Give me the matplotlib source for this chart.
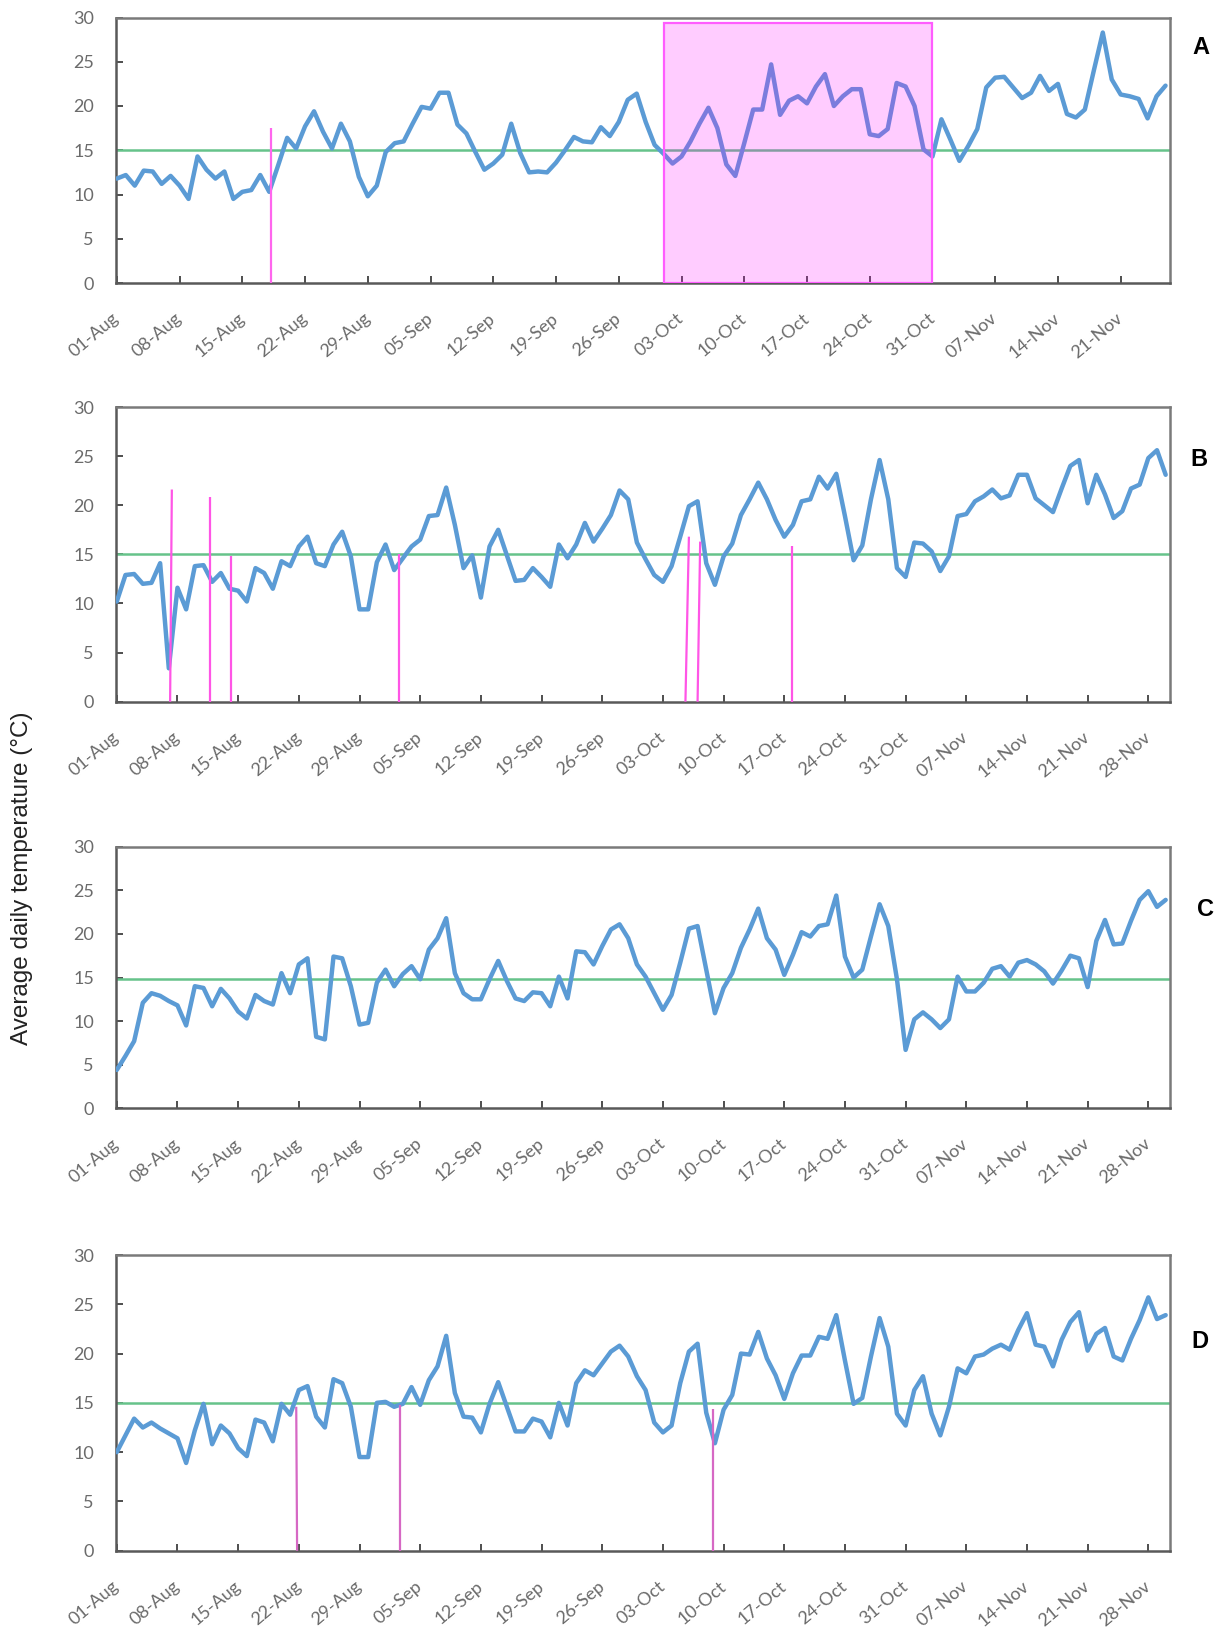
import numpy as np
import pandas as pd
import matplotlib
matplotlib.use("Agg")
import matplotlib.pyplot as plt
from matplotlib.patches import Rectangle

start_date = "2018-08-01"
tick_step = 7

# daily mean temperature, one value per day from 01-Aug
temp_a = [11.8, 12.2, 11.0, 12.7, 12.6, 11.2, 12.1, 11.0, 9.5, 14.3,
          12.8, 11.8, 12.6, 9.5, 10.3, 10.5, 12.2, 10.3, 13.3, 16.4,
          15.2, 17.7, 19.4, 17.1, 15.2, 18.0, 16.0, 12.0, 9.8, 11.0,
          14.8, 15.8, 16.0, 18.0, 19.9, 19.7, 21.5, 21.5, 17.9, 16.9,
          14.8, 12.8, 13.5, 14.5, 18.0, 14.7, 12.5, 12.6, 12.5, 13.6,
          15.0, 16.5, 16.0, 15.9, 17.6, 16.6, 18.2, 20.7, 21.4, 18.2,
          15.6, 14.6, 13.5, 14.3, 16.0, 18.0, 19.8, 17.5, 13.4, 12.1,
          15.8, 19.6, 19.6, 24.7, 19.0, 20.6, 21.1, 20.3, 22.2, 23.6,
          20.0, 21.1, 21.9, 21.9, 16.8, 16.6, 17.4, 22.6, 22.2, 20.0,
          15.1, 14.3, 18.5, 16.2, 13.8, 15.5, 17.4, 22.1, 23.2, 23.3,
          22.1, 20.9, 21.5, 23.4, 21.7, 22.5, 19.1, 18.7, 19.6, 24.0,
          28.3, 23.0, 21.3, 21.1, 20.8, 18.6, 21.1, 22.3]

temp_b = [10.2, 12.9, 13.0, 12.0, 12.1, 14.1, 3.4, 11.6, 9.4, 13.8,
          13.9, 12.2, 13.1, 11.5, 11.3, 10.2, 13.6, 13.1, 11.5, 14.3,
          13.8, 15.8, 16.8, 14.1, 13.8, 16.0, 17.3, 14.8, 9.4, 9.4,
          14.2, 16.0, 13.4, 14.6, 15.8, 16.5, 18.9, 19.0, 21.8, 18.0,
          13.6, 14.9, 10.6, 15.8, 17.5, 14.9, 12.3, 12.4, 13.6, 12.7,
          11.7, 16.0, 14.6, 16.0, 18.2, 16.3, 17.6, 19.0, 21.5, 20.6,
          16.2, 14.5, 12.9, 12.2, 13.8, 16.8, 19.9, 20.4, 14.1, 11.9,
          14.8, 16.1, 19.0, 20.6, 22.3, 20.6, 18.5, 16.8, 18.0, 20.4,
          20.6, 22.9, 21.7, 23.2, 18.9, 14.4, 15.9, 20.6, 24.6, 20.6,
          13.6, 12.7, 16.2, 16.1, 15.3, 13.3, 14.8, 18.9, 19.1, 20.4,
          20.9, 21.6, 20.7, 21.0, 23.1, 23.1, 20.7, 20.0, 19.3, 21.7,
          24.0, 24.6, 20.2, 23.1, 21.1, 18.7, 19.4, 21.7, 22.1, 24.8,
          25.6, 23.1]

temp_c = [4.4, 6.0, 7.7, 12.1, 13.2, 12.9, 12.3, 11.8, 9.5, 14.0,
          13.8, 11.7, 13.7, 12.6, 11.1, 10.3, 13.0, 12.3, 11.9, 15.5,
          13.2, 16.5, 17.2, 8.2, 7.9, 17.4, 17.2, 14.0, 9.6, 9.8,
          14.4, 15.9, 14.0, 15.4, 16.3, 14.8, 18.2, 19.5, 21.8, 15.5,
          13.2, 12.5, 12.5, 14.8, 16.9, 14.6, 12.6, 12.3, 13.3, 13.2,
          11.7, 15.1, 12.6, 18.0, 17.9, 16.5, 18.6, 20.5, 21.1, 19.5,
          16.5, 15.1, 13.2, 11.3, 13.0, 16.7, 20.6, 20.9, 15.9, 10.9,
          13.8, 15.5, 18.4, 20.5, 22.9, 19.5, 18.2, 15.3, 17.6, 20.2,
          19.7, 20.9, 21.1, 24.4, 17.4, 15.0, 15.9, 19.7, 23.4, 20.9,
          14.8, 6.7, 10.2, 11.0, 10.2, 9.2, 10.2, 15.1, 13.4, 13.4,
          14.4, 16.0, 16.3, 15.1, 16.7, 17.0, 16.5, 15.7, 14.3, 15.8,
          17.5, 17.2, 13.9, 19.2, 21.6, 18.8, 18.9, 21.5, 23.9, 24.9,
          23.1, 23.9]

temp_d = [10.0, 11.7, 13.4, 12.5, 13.0, 12.4, 11.9, 11.4, 8.9, 12.2,
          14.9, 10.8, 12.7, 11.9, 10.4, 9.6, 13.3, 13.0, 11.1, 14.9,
          13.8, 16.3, 16.7, 13.6, 12.5, 17.4, 17.0, 14.6, 9.5, 9.5,
          15.0, 15.1, 14.6, 14.9, 16.6, 14.8, 17.3, 18.7, 21.8, 16.0,
          13.6, 13.5, 12.0, 14.9, 17.1, 14.6, 12.1, 12.1, 13.4, 13.1,
          11.5, 15.0, 12.7, 17.0, 18.3, 17.8, 19.0, 20.2, 20.8, 19.7,
          17.7, 16.3, 13.0, 12.0, 12.7, 17.0, 20.2, 21.0, 14.0, 10.9,
          14.3, 15.8, 20.0, 19.9, 22.2, 19.5, 17.8, 15.4, 18.0, 19.8,
          19.8, 21.7, 21.5, 23.9, 19.3, 14.9, 15.5, 19.7, 23.6, 20.7,
          13.9, 12.7, 16.3, 17.7, 13.9, 11.7, 14.6, 18.5, 18.0, 19.7,
          19.9, 20.5, 20.9, 20.4, 22.4, 24.1, 20.9, 20.7, 18.7, 21.4,
          23.2, 24.2, 20.3, 22.0, 22.6, 19.7, 19.3, 21.5, 23.4, 25.7,
          23.5, 23.9]

thresholds = [15, 15, 14.8, 15]

# event markers: (day at base, day at top, height of marker)
events_a = [(17.2, 17.2, 17.5)]
events_b = [(6.15, 6.35, 21.6), (10.7, 10.7, 20.8), (13.2, 13.2, 14.8),
            (32.6, 32.6, 15.0), (65.6, 66.0, 16.8), (67.0, 67.3, 16.3),
            (77.9, 77.9, 15.8)]
events_c = []
events_d = [(20.8, 20.7, 14.6), (32.7, 32.7, 14.8), (68.8, 68.8, 14.4)]

# shaded period in panel A: 01-Oct to 31-Oct
shade_start, shade_end, shade_top = 61, 91, 29.4

panel_names = ["A", "B", "C", "D"]
series = [temp_a, temp_b, temp_c, temp_d]
events = [events_a, events_b, events_c, events_d]

W, H = 1221, 1629
# axes boxes in pixels: (top, bottom)
boxes = [(17.5, 283.0), (407.0, 701.7), (846.7, 1108.3), (1255.0, 1550.7)]
ax_left, ax_right = 115.5, 1170.0
letter_pos = [(1201, 47), (1199, 460), (1205, 910), (1200, 1342)]
event_colors = ["#ff66ee", "#ff55e6", None, "#d668c4"]

blue = "#5b9bd5"
green = "#66c38a"
spine_dark = "#595959"
label_gray = "#6b6b6b"

fig = plt.figure(figsize=(W / 100, H / 100), dpi=100)

for i, temps in enumerate(series):
    top, bottom = boxes[i]
    ax = fig.add_axes([ax_left / W, 1 - bottom / H,
                       (ax_right - ax_left) / W, (bottom - top) / H])
    n = len(temps)
    x = np.arange(n)
    dates = pd.date_range(start_date, periods=n, freq="D")

    ax.plot(x, temps, color=blue, lw=3.2, solid_joinstyle="round",
            solid_capstyle="round", zorder=3)
    ax.axhline(thresholds[i], color=green, lw=1.8, zorder=2)

    for x0, x1, h in events[i]:
        ax.plot([x0, x1], [0, h], color=event_colors[i], lw=1.6,
                zorder=4, solid_capstyle="butt")

    if i == 0:
        ax.add_patch(Rectangle((shade_start, 0), shade_end - shade_start,
                               shade_top, facecolor=(1, 0, 1, 0.2),
                               edgecolor="#ff5cff", lw=1.6, zorder=5))

    ax.set_xlim(-0.15, n - 0.5)
    ax.set_ylim(0, 30)
    ax.set_yticks(range(0, 31, 5))
    tick_idx = x[::tick_step]
    ax.set_xticks(tick_idx)
    ax.set_xticklabels(dates[::tick_step].strftime("%d-%b"), rotation=40,
                       ha="right", va="center", rotation_mode="anchor")

    ax.tick_params(axis="both", direction="in", length=5, width=1.3,
                   color="#404040", labelcolor=label_gray, labelsize=13)
    ax.tick_params(axis="y", pad=15.5)
    ax.tick_params(axis="x", pad=24)
    for lab in ax.get_xticklabels() + ax.get_yticklabels():
        lab.set_family("Lato")

    for side in ["left", "bottom"]:
        ax.spines[side].set_color(spine_dark)
        ax.spines[side].set_linewidth(1.8)
    for side in ["top", "right"]:
        ax.spines[side].set_color("#7a7a7a")
        ax.spines[side].set_linewidth(1.8)

    lx, ly = letter_pos[i]
    fig.text(lx / W, 1 - ly / H, panel_names[i], fontsize=17,
             fontweight="bold", family="Liberation Sans", ha="center",
             va="center", color="black")

fig.text(22 / W, 1 - 878 / H, "Average daily temperature (°C)",
         rotation=90, ha="center", va="center", fontsize=17.5,
         family="Liberation Sans", color="#222222")

fig.savefig("out.png", dpi=100, facecolor="white")
